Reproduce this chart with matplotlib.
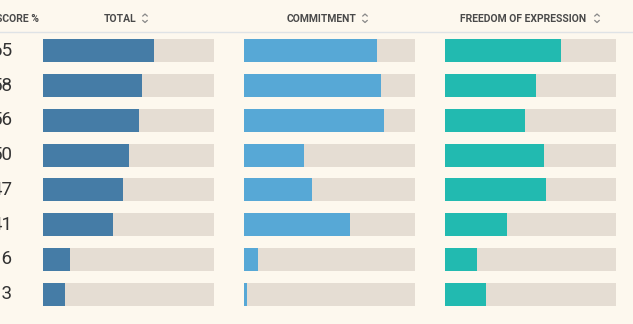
import matplotlib.pyplot as plt
from matplotlib.lines import Line2D

# data
scores = [65, 58, 56, 50, 47, 41, 16, 13]
total = [65, 58, 56, 50, 47, 41, 16, 13]
commitment = [78, 80, 82, 35, 40, 62, 8, 2]
freedom = [68, 53, 47, 58, 59, 36, 19, 24]
headers = ['TOTAL', 'COMMITMENT', 'FREEDOM OF EXPRESSION']

bg = '#fdf8ee'
track = '#e5ddd3'
colors = ['#457ca6', '#57a8d6', '#22bab0']

W, H = 633, 324
fig = plt.figure(figsize=(W / 100, H / 100), dpi=100)
fig.patch.set_facecolor(bg)

plt.rcParams['font.family'] = ['Roboto', 'DejaVu Sans']

# column positions in pixels
col_left = [43, 244, 445]
col_width = 171
top, bottom = 33.5, 311.5

for k, vals in enumerate([total, commitment, freedom]):
    ax = fig.add_axes([col_left[k] / W, 1 - bottom / H, col_width / W, (bottom - top) / H])
    ax.set_facecolor('none')
    y = range(len(vals))
    ax.barh(y, [100] * len(vals), height=0.66, color=track, edgecolor='none')
    ax.barh(y, vals, height=0.66, color=colors[k], edgecolor='none')
    ax.set_xlim(0, 100)
    ax.set_ylim(len(vals) - 0.5, -0.5)
    ax.axis('off')

# score labels (left edge is clipped like the original)
for i, s in enumerate(scores):
    yc = top + (bottom - top) * (i + 0.5) / len(scores)
    fig.text(12.5 / W, 1 - yc / H, str(s), ha='right', va='center',
             fontsize=13.5, color='#333333')

# header
fig.text(-4 / W, 1 - 18.5 / H, 'SCORE %', ha='left', va='center',
         fontsize=7.5, fontweight='bold', color='#4a4a4a')
head_x = [120, 322, 523]
icon_x = [145, 365, 597]
for k, h in enumerate(headers):
    fig.text(head_x[k] / W, 1 - 18.5 / H, h, ha='center', va='center',
             fontsize=7.5, fontweight='bold', color='#4a4a4a')
    # sort icon: small up/down chevrons
    cx = icon_x[k]
    for cy, d in [(16, -1), (20.5, 1)]:
        fig.lines.append(Line2D([(cx - 2.2) / W, cx / W, (cx + 2.2) / W],
                                [1 - cy / H, 1 - (cy + d * 2) / H, 1 - cy / H],
                                transform=fig.transFigure, color='#888888', lw=0.9))

fig.lines.append(Line2D([0, 1], [1 - 32 / H, 1 - 32 / H], transform=fig.transFigure,
                        color='#dfe3e6', lw=1))

fig.savefig('out.png', dpi=100, facecolor=bg)
